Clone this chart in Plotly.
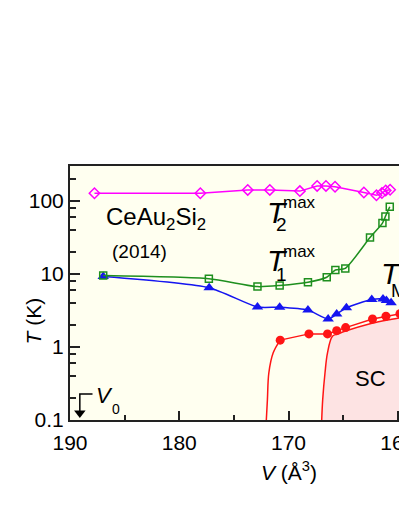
import numpy as np
import plotly.graph_objects as go

# ---------------- data ----------------
# T2max (magenta open diamonds)
v_t2 = [187.76, 178.07, 173.73, 171.71, 168.96, 167.38, 166.57, 165.74, 163.1, 161.95, 161.45, 161.1, 160.7]
t_t2 = [127, 127, 141, 141, 136, 160, 160, 156, 130, 119, 128, 139, 142]

# T1max (green open squares)
v_t1 = [186.96, 177.29, 172.84, 170.81, 168.22, 166.5, 165.71, 164.8, 162.54, 161.4, 161.13, 160.73]
t_t1 = [9.5, 8.6, 6.7, 6.95, 7.7, 9.0, 11.3, 11.9, 31.4, 49.7, 61.2, 83.2]

# T_M (blue filled triangles)
v_tm = [186.96, 177.26, 172.84, 170.81, 168.22, 166.37, 165.59, 164.7, 162.38, 161.35, 161.04, 160.61]
t_tm = [9.2, 6.46, 3.52, 3.5, 3.2, 2.41, 2.82, 3.43, 4.46, 4.54, 4.33, 4.02]

# Tc (red filled circles) and its low-T tail
v_tc = [170.76, 168.13, 166.43, 165.59, 164.77, 162.31, 161.08, 159.8]
t_tc = [1.24, 1.51, 1.51, 1.67, 1.84, 2.41, 2.63, 2.85]
v_tc_tail = [172.03, 171.93, 171.8, 171.4, 170.76]
t_tc_tail = [0.1, 0.19, 0.44, 0.83, 1.24]

# SC boundary (red line, pink region)
v_sc = [166.96, 166.87, 166.66, 166.43, 165.98, 165.5, 164.78, 162.45, 160.55, 159.5]
t_sc = [0.1, 0.19, 0.44, 0.83, 1.40, 1.50, 1.65, 2.1, 2.4, 2.55]
v_sc_fill = v_sc + [150, 150]
t_sc_fill = t_sc + [3.0, 0.1]

x_ticks = [190, 180, 170, 160, 150]
y_ticks = [0.1, 1, 10, 100]
y_tick_text = ["0.1", "1", "10", "100"]
y_minor = [0.2, 0.4, 0.6, 0.8, 2, 4, 6, 8, 20, 40, 60, 80, 200]

FONT = "Liberation Sans, Arial, sans-serif"
MAGENTA = "#FF00FF"
GREEN = "#1E8F1E"
BLUE = "#1515F0"
RED = "#FF1515"

fig = go.Figure()

# SC region
fig.add_trace(go.Scatter(x=v_sc_fill, y=t_sc_fill, fill="toself", fillcolor="#FDE3E3",
                         line=dict(width=0), mode="lines", hoverinfo="skip", showlegend=False))
fig.add_trace(go.Scatter(x=v_sc, y=t_sc, mode="lines", line=dict(color=RED, width=1.5, shape="spline"),
                         showlegend=False))
# Tc
fig.add_trace(go.Scatter(x=v_tc_tail, y=t_tc_tail, mode="lines", line=dict(color=RED, width=1.5, shape="spline"),
                         showlegend=False))
fig.add_trace(go.Scatter(x=v_tc, y=t_tc, mode="lines+markers", line=dict(color=RED, width=1.5),
                         marker=dict(symbol="circle", size=9, color=RED), showlegend=False))
# T_M
fig.add_trace(go.Scatter(x=v_tm, y=t_tm, mode="lines+markers", line=dict(color=BLUE, width=1.5, shape="spline", smoothing=0.6),
                         marker=dict(symbol="triangle-up", size=10, color=BLUE), showlegend=False))
# T1max
fig.add_trace(go.Scatter(x=v_t1, y=t_t1, mode="lines+markers", line=dict(color=GREEN, width=1.5, shape="spline", smoothing=0.6),
                         marker=dict(symbol="square-open", size=7, color=GREEN, line=dict(width=1.5, color=GREEN)),
                         showlegend=False))
# T2max
fig.add_trace(go.Scatter(x=v_t2, y=t_t2, mode="lines+markers", line=dict(color=MAGENTA, width=1.5),
                         marker=dict(symbol="diamond-open", size=8, color=MAGENTA, line=dict(width=1.5, color=MAGENTA)),
                         showlegend=False))

# V0 marker bracket and arrow
fig.add_trace(go.Scatter(x=[187.94, 189.1, 189.1], y=[0.227, 0.227, 0.13], mode="lines",
                         line=dict(color="black", width=1.5), showlegend=False, hoverinfo="skip"))
fig.add_trace(go.Scatter(x=[189.1], y=[0.125], mode="markers",
                         marker=dict(symbol="triangle-down", size=10, color="black"), showlegend=False, hoverinfo="skip"))

ann = []
def A(text, x, y, size, xanchor="center", yanchor="middle", **kw):
    d = dict(text=text, x=x, y=y, xref="x", yref="y", showarrow=False,
             font=dict(family=FONT, size=size, color="black"), xanchor=xanchor, yanchor=yanchor)
    d.update(kw)
    ann.append(d)

A("CeAu<sub>2</sub>Si<sub>2</sub>", 186.87, 1.765, 24, xanchor="left")
A("(2014)", 186.3, 1.304, 19, xanchor="left")
A("<i>T</i>", 171.0, 1.847, 30)
A("2", 170.6, 1.680, 19)
A("max", 168.97, 1.977, 17)
A("<i>T</i>", 171.0, 1.190, 30)
A("1", 170.65, 0.995, 19)
A("max", 168.97, 1.300, 17)
A("<i>T</i>", 160.6, 1.012, 30)
A("M", 160.8, 0.770, 19, xanchor="left")
A("SC", 162.5, -0.436, 22)
A("<i>V</i>", 186.85, -0.668, 22)
A("0", 185.75, -0.850, 14)

# axis titles
ann.append(dict(text="<i>T</i> (K)", x=-0.114, y=0.29, xref="paper", yref="paper", showarrow=False,
                textangle=-90, font=dict(family=FONT, size=21, color="black")))
ann.append(dict(text="<i>V</i> (Å<sup>3</sup>)", x=0.501, y=-0.26, xref="paper", yref="paper", showarrow=False,
                font=dict(family=FONT, size=21, color="black")))

fig.update_layout(
    width=537, height=516,
    margin=dict(l=70, r=20, t=166, b=96),
    paper_bgcolor="white",
    plot_bgcolor="#FFFFF0",
    font=dict(family=FONT, size=21, color="black"),
    annotations=ann,
    showlegend=False,
)
fig.update_xaxes(range=[190, 150], tickvals=x_ticks, ticks="inside", ticklen=9, tickwidth=1.5,
                 showline=True, linewidth=2, linecolor="#222", mirror=True, showgrid=False, zeroline=False,
                 minor=dict(dtick=5, ticks="inside", ticklen=5, tickwidth=1.5, tickcolor="#222"),
                 tickcolor="#222", tickfont=dict(size=21), ticklabelstandoff=3)
fig.update_yaxes(type="log", range=[-1, np.log10(300)], tickvals=y_ticks, ticktext=y_tick_text,
                 ticks="inside", ticklen=10, tickwidth=1.5, tickcolor="#222",
                 showline=True, linewidth=2, linecolor="#222", mirror=True, showgrid=False, zeroline=False,
                 minor=dict(tickvals=y_minor, ticks="inside", ticklen=6, tickwidth=1.5, tickcolor="#222"),
                 tickfont=dict(size=21))

fig.write_html("out.html", config={"displayModeBar": False},
               post_script="document.body.style.margin='0';document.body.style.overflow='hidden';")
